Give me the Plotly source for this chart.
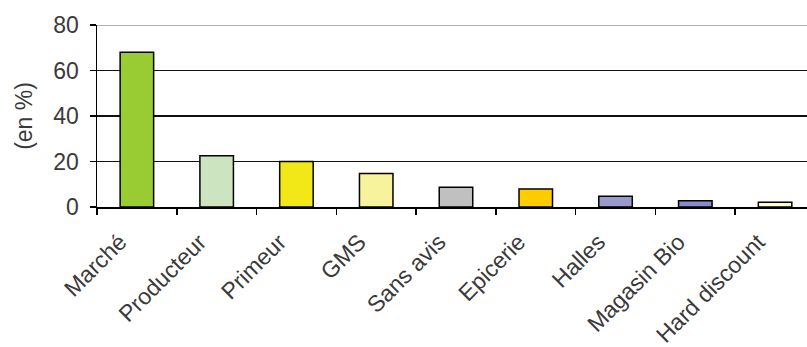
import plotly.graph_objects as go

categories = ["Marché", "Producteur", "Primeur", "GMS", "Sans avis",
              "Epicerie", "Halles", "Magasin Bio", "Hard discount"]
values = [68.0, 22.5, 20.0, 14.7, 8.7, 7.9, 4.7, 2.8, 2.1]
colors = ["#99CC33", "#CCE5C0", "#F2E817", "#F7F39C", "#C0C0C0",
          "#FFCC00", "#9999CC", "#8A8AC8", "#FFFFC8"]
y_ticks = [0, 20, 40, 60, 80]

fig = go.Figure(go.Bar(
    x=categories, y=values,
    marker=dict(color=colors, line=dict(color="#000000", width=1.5)),
    width=0.42,
))

font_family = "Liberation Sans, Arial, sans-serif"
fig.update_layout(
    template="none",
    width=807, height=347,
    margin=dict(l=97, r=0, t=25, b=140, autoexpand=False),
    paper_bgcolor="white", plot_bgcolor="white",
    showlegend=False,
    font=dict(family=font_family, color="#3a3a3a"),
    xaxis=dict(
        type="category",
        automargin=False,
        range=[-0.5, 8.4],
        showgrid=False,
        showline=True, linecolor="#000000", linewidth=1.5,
        ticks="outside", ticklen=6, tickcolor="#000000", tickwidth=1.5,
        tickson="boundaries",
        tickangle=-45,
        ticklabelshift=-17,
        ticklabelstandoff=11,
        tickfont=dict(size=23, color="#3a3a3a"),
    ),
    yaxis=dict(
        automargin=False,
        range=[0, 80],
        tickvals=y_ticks,
        showgrid=True, gridcolor="#111111", gridwidth=1.6,
        showline=True, linecolor="#000000", linewidth=1.5,
        ticks="outside", ticklen=6, tickcolor="#000000", tickwidth=1.5,
        ticklabelstandoff=6,
        tickfont=dict(size=23, color="#3a3a3a"),
        title=dict(text="(en %)", font=dict(size=23, color="#3a3a3a"), standoff=14),
        zeroline=False,
    ),
    shapes=[dict(type="line", xref="paper", yref="y", x0=0, x1=1, y0=80, y1=80,
                 line=dict(color="#9a9a9a", width=1.5), layer="above")],
)

fig.write_html("out.html",
               config={"displayModeBar": False, "staticPlot": True},
               post_script="document.body.style.margin='0';document.body.style.overflow='hidden';")
